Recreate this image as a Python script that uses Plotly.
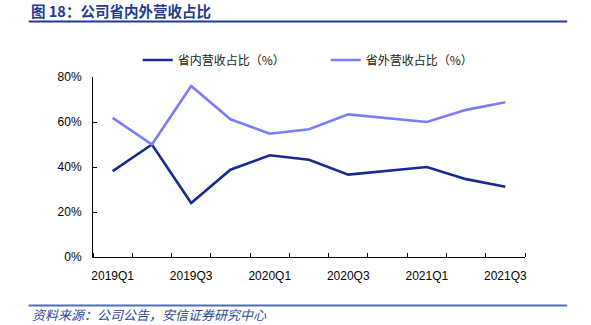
import plotly.graph_objects as go

quarters = ["2019Q1", "2019Q2", "2019Q3", "2019Q4", "2020Q1", "2020Q2",
            "2020Q3", "2020Q4", "2021Q1", "2021Q2", "2021Q3"]
inner_share = [38.2, 50.0, 24.0, 38.8, 45.2, 43.2, 36.6, 38.3, 40.0, 34.6, 31.2]
outer_share = [61.8, 50.0, 76.0, 61.2, 54.8, 56.8, 63.4, 61.7, 60.0, 65.4, 68.8]
y_ticks = [0, 20, 40, 60, 80]
y_tick_text = ["0%", "20%", "40%", "60%", "80%"]

W, H = 591, 325
L, R, T, B = 93.3, 525.3, 77, 257

def px(x):
    return (x - L) / (R - L)

def py(y):
    return (B - y) / (B - T)

idx = list(range(len(quarters)))
label_idx = idx[::2]
label_text = [quarters[i] for i in label_idx]
boundaries = [i - 0.5 for i in idx] + [idx[-1] + 0.5]

fig = go.Figure()
fig.add_trace(go.Scatter(x=idx, y=inner_share, mode="lines",
                         name="省内营收占比（%）", text=quarters,
                         line=dict(color="#162C8C", width=2.6)))
fig.add_trace(go.Scatter(x=idx, y=outer_share, mode="lines",
                         name="省外营收占比（%）", text=quarters,
                         line=dict(color="#7B7BFB", width=2.6)))

fig.update_layout(
    width=W, height=H,
    margin=dict(l=L, r=W - R, t=T, b=H - B, pad=0),
    paper_bgcolor="white", plot_bgcolor="white",
    font=dict(family="Liberation Sans, Arial, Noto Sans CJK SC", size=12, color="#111111"),
    showlegend=True,
    legend=dict(orientation="h", x=px(138), xanchor="left", y=py(60), yanchor="middle",
                font=dict(family="Noto Sans CJK SC", size=12, color="#222222"),
                entrywidth=143, bgcolor="rgba(0,0,0,0)", itemwidth=30),
    xaxis=dict(range=[-0.5, len(quarters) - 0.5], tickmode="array",
               tickvals=label_idx, ticktext=label_text, tickangle=0,
               ticks="", showline=True, linecolor="#000", linewidth=1,
               showgrid=False, zeroline=False,
               tickfont=dict(size=12, color="#000"),
               ticklabelstandoff=8, fixedrange=True,
               minor=dict(tickmode="array", tickvals=boundaries, ticks="inside",
                          ticklen=4, tickcolor="#000", showgrid=False)),
    yaxis=dict(range=[0, 80], tickvals=y_ticks, ticktext=y_tick_text,
               ticks="inside", ticklen=4, tickcolor="#000",
               showline=True, linecolor="#000", linewidth=1, showgrid=False,
               zeroline=False, tickfont=dict(size=12, color="#000"),
               ticklabelstandoff=8, fixedrange=True),
)

# header & footer rules
fig.add_shape(type="line", xref="paper", yref="paper",
              x0=px(29), x1=px(567.5), y0=py(21.5), y1=py(21.5),
              line=dict(color="#1F3A93", width=2))
fig.add_shape(type="line", xref="paper", yref="paper",
              x0=px(29), x1=px(567.5), y0=py(305.5), y1=py(305.5),
              line=dict(color="#4F6DB3", width=2))

fig.add_annotation(xref="paper", yref="paper", x=px(29), y=py(10.5),
                   xanchor="left", yanchor="middle", showarrow=False,
                   text="<b>图 18：公司省内外营收占比</b>",
                   font=dict(family="Noto Sans CJK SC", size=14.5, color="#1F3A93"))
fig.add_annotation(xref="paper", yref="paper", x=px(30), y=py(314),
                   xanchor="left", yanchor="middle", showarrow=False,
                   text="<i>资料来源：公司公告，安信证券研究中心</i>",
                   font=dict(family="Noto Sans CJK SC", size=13, color="#2A4AA0"))

fig.write_html("out.html")
